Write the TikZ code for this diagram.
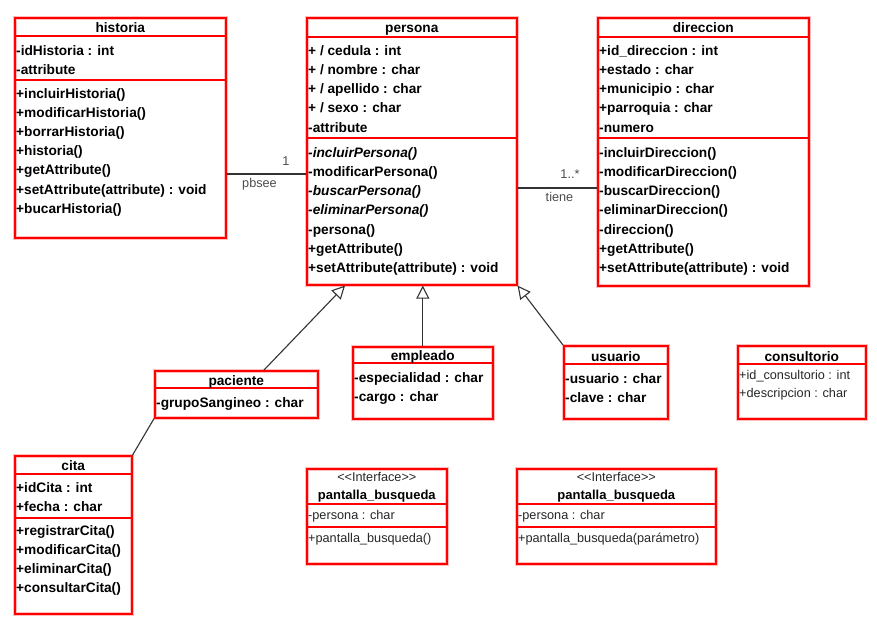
\documentclass[tikz,border=0pt]{standalone}
\usepackage{fontspec}
\setmainfont{Liberation Sans}
\usetikzlibrary{arrows.meta, positioning, calc}

\tikzset{
    cls/.style={draw=red, line width=1.6pt, preaction={draw=red!25, line width=3.4pt}, anchor=north west, inner sep=0pt},
    sep/.style={draw=red, line width=1.6pt},
    ttl/.style={font=\bfseries\fontsize{13.7}{16}\selectfont, anchor=base, inner sep=0pt},
    att/.style={font=\bfseries\fontsize{13.7}{16}\selectfont, anchor=base west, inner sep=0pt},
    plain/.style={font=\fontsize{12.7}{15}\selectfont, text=black!85, anchor=base west, inner sep=0pt},
    lbl/.style={font=\fontsize{12.7}{15}\selectfont, text=black!70, anchor=base, inner sep=0pt},
    assoc/.style={draw=black!80, line width=1.1pt},
    inherit/.style={draw=black!80, line width=1.1pt, -{Triangle[open, length=13pt, width=13pt]}}
}

\begin{document}
\begin{tikzpicture}[x=1pt, y=-1pt]
    \useasboundingbox (0,0) rectangle (877,622);

    % historia
    \node[cls, minimum width=211pt, minimum height=220pt] (historia) at (14,17) {};
    \draw[sep] (historia.west |- 0,36) -- (historia.east |- 0,36);
    \draw[sep] (historia.west |- 0,80) -- (historia.east |- 0,80);
    \node[ttl] (historiaT) at (historia.north |- 0,32) {historia};
    \foreach \t [count=\i from 0] in {-idHistoria : int, -attribute}
        \node[att] (historiaA\i) at (16, 55+19*\i) {\t};
    \foreach \t [count=\i from 0] in {+incluirHistoria(), +modificarHistoria(), +borrarHistoria(), +historia(),
        +getAttribute(), +setAttribute(attribute) : void, +bucarHistoria()}
        \node[att] (historiaM\i) at (16, 98+19.2*\i) {\t};

    % persona
    \node[cls, minimum width=210pt, minimum height=267pt] (persona) at (306,17) {};
    \draw[sep] (persona.west |- 0,37) -- (persona.east |- 0,37);
    \draw[sep] (persona.west |- 0,138) -- (persona.east |- 0,138);
    \node[ttl] (personaT) at (persona.north |- 0,32) {persona};
    \foreach \t [count=\i from 0] in {+ / cedula : int, + / nombre : char, + / apellido : char, + / sexo : char, -attribute}
        \node[att] (personaA\i) at (308, 55+19.25*\i) {\t};
    \foreach \t [count=\i from 0] in {{\itshape -incluirPersona()}, -modificarPersona(), {\itshape -buscarPersona()},
        {\itshape -eliminarPersona()}, -persona(), +getAttribute(), +setAttribute(attribute) : void}
        \node[att] (personaM\i) at (308, 157+19.3*\i) {\t};

    % direccion
    \node[cls, minimum width=211pt, minimum height=268pt] (direccion) at (597,17) {};
    \draw[sep] (direccion.west |- 0,37) -- (direccion.east |- 0,37);
    \draw[sep] (direccion.west |- 0,138) -- (direccion.east |- 0,138);
    \node[ttl] (direccionT) at (direccion.north |- 0,32) {direccion};
    \foreach \t [count=\i from 0] in {+id\_direccion : int, +estado : char, +municipio : char, +parroquia : char, -numero}
        \node[att] (direccionA\i) at (599, 55+19.25*\i) {\t};
    \foreach \t [count=\i from 0] in {-incluirDireccion(), -modificarDireccion(), -buscarDireccion(), -eliminarDireccion(),
        -direccion(), +getAttribute(), +setAttribute(attribute) : void}
        \node[att] (direccionM\i) at (599, 157+19.3*\i) {\t};

    % paciente, empleado, usuario, consultorio
    \node[cls, minimum width=163pt, minimum height=47pt] (paciente) at (154,370) {};
    \draw[sep] (paciente.west |- 0,388) -- (paciente.east |- 0,388);
    \node[ttl] (pacienteT) at (paciente.north |- 0,385) {paciente};
    \node[att] (pacienteA0) at (156,407) {-grupoSangineo : char};

    \node[cls, minimum width=140pt, minimum height=72pt] (empleado) at (352,346) {};
    \draw[sep] (empleado.west |- 0,363) -- (empleado.east |- 0,363);
    \node[ttl] (empleadoT) at (empleado.north |- 0,360) {empleado};
    \node[att] (empleadoA0) at (354,382) {-especialidad : char};
    \node[att] (empleadoA1) at (354,401.5) {-cargo : char};

    \node[cls, minimum width=104pt, minimum height=73pt] (usuario) at (563,345) {};
    \draw[sep] (usuario.west |- 0,364) -- (usuario.east |- 0,364);
    \node[ttl] (usuarioT) at (usuario.north |- 0,361) {usuario};
    \node[att] (usuarioA0) at (565,383) {-usuario : char};
    \node[att] (usuarioA1) at (565,402) {-clave : char};

    \node[cls, minimum width=128pt, minimum height=73pt] (consultorio) at (737,345) {};
    \draw[sep] (consultorio.west |- 0,364) -- (consultorio.east |- 0,364);
    \node[ttl] (consultorioT) at (consultorio.north |- 0,361) {consultorio};
    \node[plain] (consultorioA0) at (739,379) {+id\_consultorio : int};
    \node[plain] (consultorioA1) at (739,397) {+descripcion : char};

    % cita
    \node[cls, minimum width=117pt, minimum height=158pt] (cita) at (14,455) {};
    \draw[sep] (cita.west |- 0,474) -- (cita.east |- 0,474);
    \draw[sep] (cita.west |- 0,518) -- (cita.east |- 0,518);
    \node[ttl] (citaT) at (cita.north |- 0,470) {cita};
    \node[att] (citaA0) at (16,492) {+idCita : int};
    \node[att] (citaA1) at (16,511) {+fecha : char};
    \foreach \t [count=\i from 0] in {+registrarCita(), +modificarCita(), +eliminarCita(), +consultarCita()}
        \node[att] (citaM\i) at (16, 535+19.3*\i) {\t};

    % interfaces
    \node[cls, minimum width=140pt, minimum height=95pt] (pantallaA) at (306,468) {};
    \draw[sep] (pantallaA.west |- 0,504) -- (pantallaA.east |- 0,504);
    \draw[sep] (pantallaA.west |- 0,527) -- (pantallaA.east |- 0,527);
    \node[lbl, text=black!85] (pantallaAS) at (pantallaA.north |- 0,481) {<{}<Interface>{}>};
    \node[ttl, font=\bfseries\fontsize{13}{16}\selectfont] (pantallaAT) at (pantallaA.north |- 0,499) {pantalla\_busqueda};
    \node[plain] (pantallaAA0) at (308,519) {-persona : char};
    \node[plain] (pantallaAM0) at (308,542) {+pantalla\_busqueda()};

    \node[cls, minimum width=199pt, minimum height=95pt] (pantallaB) at (516,468) {};
    \draw[sep] (pantallaB.west |- 0,504) -- (pantallaB.east |- 0,504);
    \draw[sep] (pantallaB.west |- 0,527) -- (pantallaB.east |- 0,527);
    \node[lbl, text=black!85] (pantallaBS) at (pantallaB.north |- 0,481) {<{}<Interface>{}>};
    \node[ttl, font=\bfseries\fontsize{13}{16}\selectfont] (pantallaBT) at (pantallaB.north |- 0,499) {pantalla\_busqueda};
    \node[plain] (pantallaBA0) at (518,519) {-persona : char};
    \node[plain] (pantallaBM0) at (518,542) {+pantalla\_busqueda(parámetro)};

    % associations
    \draw[assoc] (historia.east |- 0,174) -- (persona.west |- 0,174);
    \node[lbl] (posee1) at (286,165) {1};
    \node[lbl] (poseeR) at (259.5,187) {pbsee};
    \draw[assoc] (persona.east |- 0,188) -- (direccion.west |- 0,188);
    \node[lbl] (tiene1) at (570,178) {1..*};
    \node[lbl] (tieneR) at (559.5,201) {tiene};
    \draw[assoc] (cita.north east) -- (paciente.south west);

    % generalisations
    \draw[inherit] (paciente.north -| 264,0) -- (persona.south -| 345,0);
    \draw[inherit] (empleado.north) -- (persona.south -| empleado.north);
    \draw[inherit] (usuario.north west) -- (persona.south east);
\end{tikzpicture}
\end{document}
